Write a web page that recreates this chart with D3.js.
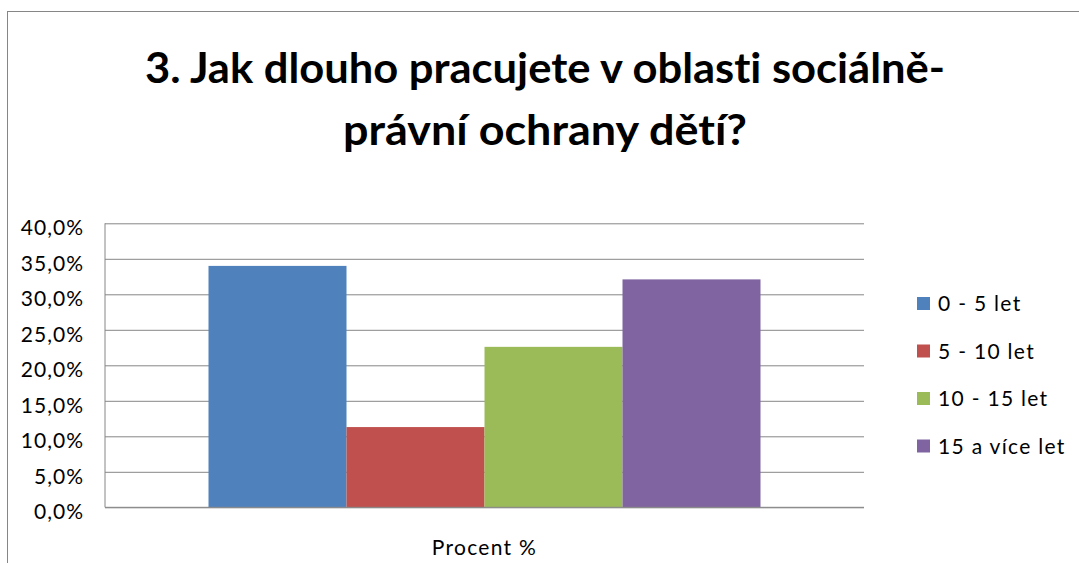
<!DOCTYPE html>
<html>
<head>
<meta charset="utf-8">
<script src="https://cdn.jsdelivr.net/npm/d3@7"></script>
<style>
  html, body { margin: 0; padding: 0; background: #fff; }
  svg { display: block; }
  text { font-family: Lato, "Open Sans", sans-serif; fill: #000; font-variant-ligatures: none; font-feature-settings: "liga" 0, "clig" 0; }
</style>
</head>
<body>
<svg id="chart" width="1079" height="563"></svg>
<script>
// ---- data ----
const titleLines = ["3. Jak dlouho pracujete v oblasti sociálně-", "právní ochrany dětí?"];
const categories = ["Procent %"];
const seriesNames = ["0 - 5 let", "5 - 10 let", "10 - 15 let", "15 a více let"];
const seriesValues = [0.340, 0.113, 0.226, 0.321];
const seriesColors = ["#4F81BD", "#C0504D", "#9BBB59", "#8064A2"];
const yTicks = [0, 0.05, 0.10, 0.15, 0.20, 0.25, 0.30, 0.35, 0.40];

// ---- layout ----
const W = 1079, H = 563;
const plot = { left: 105, right: 864, top: 223.3, bottom: 507.3 };
const svg = d3.select("#chart");

// chart frame (cropped at right/bottom)
svg.append("rect")
  .attr("x", 7.5).attr("y", 11.5)
  .attr("width", W + 20).attr("height", H + 20)
  .attr("fill", "#fff").attr("stroke", "#868686").attr("stroke-width", 1);

// title
const titleCx = 545;
const titleWidths = [800, 404];
svg.append("g").selectAll("text")
  .data(titleLines)
  .join("text")
  .attr("x", titleCx)
  .attr("y", (d, i) => 83 + i * 62)
  .attr("text-anchor", "middle")
  .attr("font-size", 42)
  .attr("font-weight", "bold")
  .attr("textLength", (d, i) => titleWidths[i])
  .attr("lengthAdjust", "spacingAndGlyphs")
  .text(d => d);

// scales
const y = d3.scaleLinear().domain([0, 0.4]).range([plot.bottom, plot.top]);
const x0 = d3.scaleBand().domain(categories).range([plot.left, plot.right])
  .paddingInner(0).paddingOuter(0.1875);
const x1 = d3.scaleBand().domain(seriesNames).range([0, x0.bandwidth()]).padding(0);

const locale = d3.formatLocale({ decimal: ",", thousands: " ", grouping: [3], currency: ["", " Kč"] });
const fmt = locale.format(".1%");

// y axis with gridlines
const yAxis = d3.axisLeft(y)
  .tickValues(yTicks)
  .tickFormat(fmt)
  .tickSize(-(plot.right - plot.left))
  .tickPadding(21);

const gy = svg.append("g")
  .attr("transform", `translate(${plot.left},0)`)
  .call(yAxis);
gy.select(".domain").remove();
gy.selectAll(".tick line").attr("stroke", "#868686").attr("stroke-width", 1);
gy.selectAll(".tick text")
  .attr("font-size", 21)
  .attr("font-family", "Lato, 'Open Sans', sans-serif")
  .attr("letter-spacing", "1px")
  .attr("dy", "0.55em")
  .attr("fill", "#000");

// left axis line
svg.append("line")
  .attr("x1", plot.left).attr("x2", plot.left)
  .attr("y1", y(0.4)).attr("y2", y(0))
  .attr("stroke", "#868686").attr("stroke-width", 1);

// bars
const groups = svg.append("g").selectAll("g")
  .data(categories)
  .join("g")
  .attr("transform", d => `translate(${x0(d)},0)`);

groups.selectAll("rect")
  .data(seriesNames.map((name, i) => ({ name, value: seriesValues[i], color: seriesColors[i] })))
  .join("rect")
  .attr("x", d => x1(d.name))
  .attr("width", x1.bandwidth())
  .attr("y", d => y(d.value))
  .attr("height", d => y(0) - y(d.value))
  .attr("fill", d => d.color);

// x axis baseline
svg.append("line")
  .attr("x1", plot.left).attr("x2", plot.right)
  .attr("y1", y(0)).attr("y2", y(0))
  .attr("stroke", "#868686").attr("stroke-width", 1);

// x category label
svg.append("g").selectAll("text")
  .data(categories)
  .join("text")
  .attr("x", d => x0(d) + x0.bandwidth() / 2)
  .attr("y", 555)
  .attr("text-anchor", "middle")
  .attr("font-size", 21)
  .attr("letter-spacing", "1.3px")
  .text(d => d);

// legend
const legend = svg.append("g").selectAll("g")
  .data(seriesNames)
  .join("g")
  .attr("transform", (d, i) => `translate(917,${304 + i * 47.5})`);
legend.append("rect")
  .attr("x", 0).attr("y", -7)
  .attr("width", 13).attr("height", 13)
  .attr("fill", (d, i) => seriesColors[i]);
legend.append("text")
  .attr("x", 21).attr("y", 0)
  .attr("dy", "0.35em")
  .attr("font-size", 21)
  .attr("letter-spacing", "1.3px")
  .text(d => d);
</script>
</body>
</html>
